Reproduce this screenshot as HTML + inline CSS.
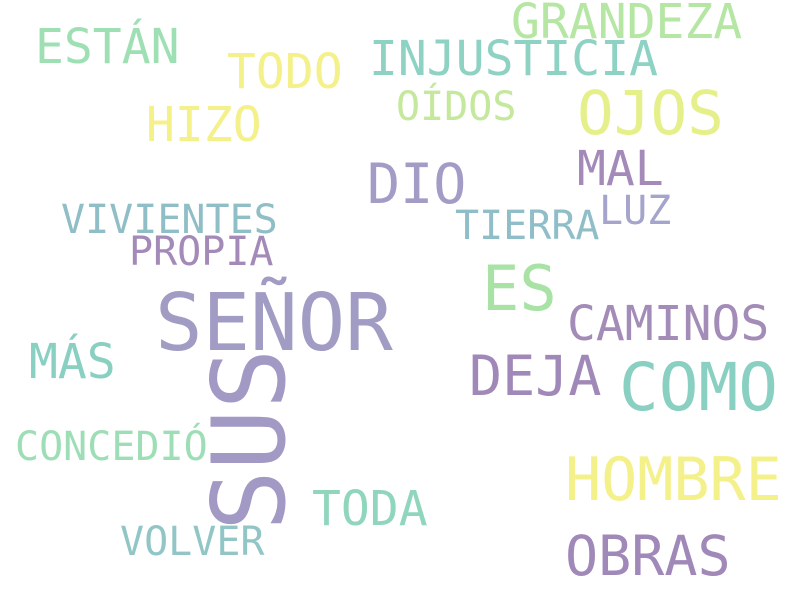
<!DOCTYPE html>
<html>
<head>
<meta charset="utf-8">
<style>
  html,body{margin:0;padding:0;background:#fff;}
  svg{display:block;}
  text{font-family:"DejaVu Sans Mono","Liberation Mono",monospace;}
</style>
</head>
<body>
<svg id="cloud" width="800" height="600" viewBox="0 0 800 600">
  <rect width="800" height="600" fill="#ffffff"></rect>
</svg>
<script>
const words = ["SEÑOR","SUS","GRANDEZA","ESTÁN","TODO","INJUSTICIA","OÍDOS","OJOS","HIZO","DIO","MAL","LUZ","VIVIENTES","TIERRA","PROPIA","ES","CAMINOS","MÁS","DEJA","COMO","CONCEDIÓ","HOMBRE","TODA","VOLVER","OBRAS"];
const sizes = [79,101,48,48,48,48,40,61,48,55,48,40,40,40,40,62,48,48,55,66,40,60,48,40,55];
const xs = [155,284,511,35,227,369,396,577,146,367,577,599,61,455,129,482,567,29,469,619,15,565,312,120,565];
const ys = [350,531,38,63,88,75,120,134,141,203,185,224,233,239,265,310,340,378,395,410,460,500,525,555,575];
const rotated = [false,true,false,false,false,false,false,false,false,false,false,false,false,false,false,false,false,false,false,false,false,false,false,false,false];
const colors = ["#a09cc4","#a29ac4","#b6e6a4","#9ee0b4","#f4f08a","#8ed2c4","#c4e89c","#e6f08a","#f4f08a","#a29cc6","#a48ab8","#a4a4cc","#90bec6","#90bec8","#a48ab8","#a8e2a4","#a48cb8","#8ad0c2","#a088b8","#8ad0c2","#9edeb6","#f4f08a","#90d6bc","#92c6c6","#a088b8"];

const svg = document.getElementById('cloud');
words.forEach((w, i) => {
  const t = document.createElementNS('http://www.w3.org/2000/svg', 'text');
  t.textContent = w;
  t.setAttribute('font-size', sizes[i]);
  t.setAttribute('fill', colors[i]);
  if (rotated[i]) {
    t.setAttribute('transform', 'translate(' + xs[i] + ',' + ys[i] + ') rotate(-90)');
  } else {
    t.setAttribute('x', xs[i]);
    t.setAttribute('y', ys[i]);
  }
  
  
  svg.appendChild(t);
});
</script>
</body>
</html>
